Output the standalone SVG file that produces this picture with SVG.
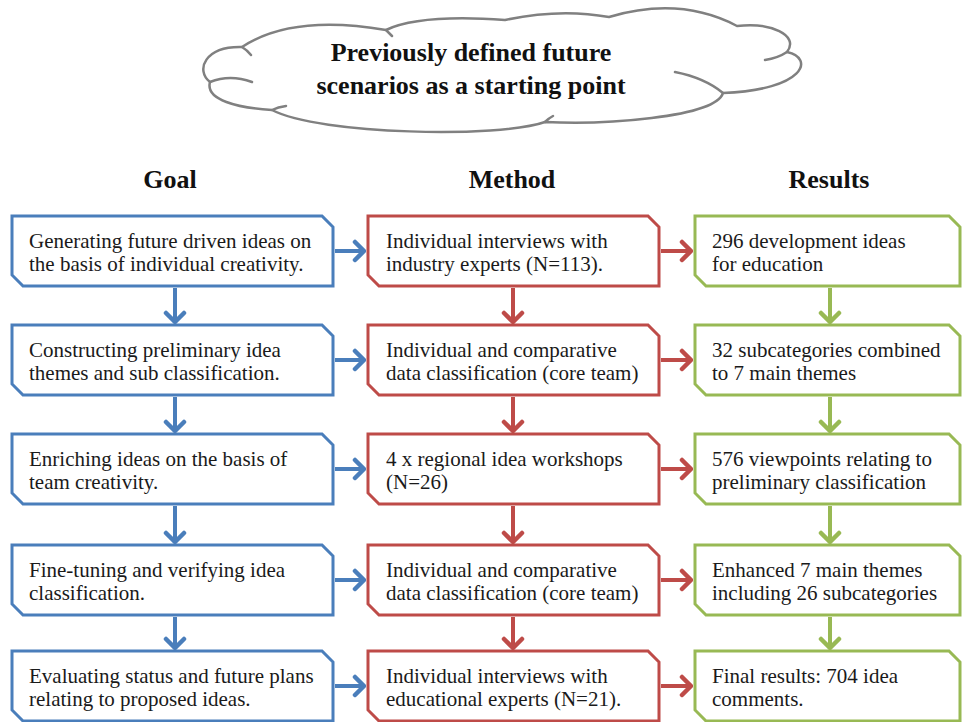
<svg xmlns="http://www.w3.org/2000/svg" width="963" height="722" viewBox="0 0 963 722">
<style>
.t{font-family:'Liberation Serif',serif;font-size:21px;fill:#1a1a1a}
.h{font-family:'Liberation Serif',serif;font-size:26px;font-weight:bold;fill:#111;text-anchor:middle}
</style>
<defs>
<marker id="mb" viewBox="-12 -12 14 24" refX="0" refY="0" markerWidth="14" markerHeight="24" markerUnits="userSpaceOnUse" orient="auto"><path d="M-9,-9 L0,0 L-9,9" fill="none" stroke="#4a7ebb" stroke-width="4.5" stroke-linecap="round" stroke-linejoin="round"/></marker>
<marker id="mr" viewBox="-12 -12 14 24" refX="0" refY="0" markerWidth="14" markerHeight="24" markerUnits="userSpaceOnUse" orient="auto"><path d="M-9,-9 L0,0 L-9,9" fill="none" stroke="#be4b48" stroke-width="4.5" stroke-linecap="round" stroke-linejoin="round"/></marker>
<marker id="mg" viewBox="-12 -12 14 24" refX="0" refY="0" markerWidth="14" markerHeight="24" markerUnits="userSpaceOnUse" orient="auto"><path d="M-9,-9 L0,0 L-9,9" fill="none" stroke="#98b954" stroke-width="4.5" stroke-linecap="round" stroke-linejoin="round"/></marker>
<path id="bx1" d="M0,0 H310 L321,11 V70 H11 L0,59 Z"/>
<path id="bx2" d="M0,0 H280 L291,11 V70 H11 L0,59 Z"/>
<path id="bx3" d="M0,0 H254 L265,11 V70 H11 L0,59 Z"/>
</defs>
<rect width="963" height="722" fill="#fff"/>

<g id="cloud">
<path fill="#fff" stroke="#808080" stroke-width="2.5" d="M242,47 Q292,14 386,30 Q420,14 505,20 Q560,8 609,17 Q680,-4 737,26 C770,22 800,35 787,52 C815,58 805,90 723,93 C715,118 600,125 545,122 C500,138 320,135 272,110 C238,108 205,100 210,82 C195,70 205,46 242,47 Z"/>
<path fill="none" stroke="#808080" stroke-width="2.5" stroke-linecap="round" d="M210,82 Q230,74 252,82 M787,52 Q778,58 765,60 M723,93 Q705,78 675,72 M242,47 Q247,50 251,55 M386,30 Q389,33 392,36 M272,110 Q278,107 286,106 M545,122 Q549,118 553,116"/>
<text class="h" x="471" y="61">Previously defined future</text>
<text class="h" x="471" y="94">scenarios as a starting point</text>
</g>

<g id="headers">
<text class="h" x="170" y="188">Goal</text>
<text class="h" x="512" y="188">Method</text>
<text class="h" x="829" y="188">Results</text>
</g>

<g id="goal1"><use href="#bx1" x="12" y="216" fill="#fff" stroke="#4a7ebb" stroke-width="3"/><text class="t" x="29" y="248">Generating future driven ideas on</text><text class="t" x="29" y="271">the basis of individual creativity.</text></g>
<g id="goal2"><use href="#bx1" x="12" y="325" fill="#fff" stroke="#4a7ebb" stroke-width="3"/><text class="t" x="29" y="357">Constructing preliminary idea</text><text class="t" x="29" y="380">themes and sub classification.</text></g>
<g id="goal3"><use href="#bx1" x="12" y="434" fill="#fff" stroke="#4a7ebb" stroke-width="3"/><text class="t" x="29" y="466">Enriching ideas on the basis of</text><text class="t" x="29" y="489">team creativity.</text></g>
<g id="goal4"><use href="#bx1" x="12" y="545" fill="#fff" stroke="#4a7ebb" stroke-width="3"/><text class="t" x="29" y="577">Fine-tuning and verifying idea</text><text class="t" x="29" y="600">classification.</text></g>
<g id="goal5"><use href="#bx1" x="12" y="651" fill="#fff" stroke="#4a7ebb" stroke-width="3"/><text class="t" x="29" y="683">Evaluating status and future plans</text><text class="t" x="29" y="706">relating to proposed ideas.</text></g>

<g id="method1"><use href="#bx2" x="368" y="216" fill="#fff" stroke="#be4b48" stroke-width="3"/><text class="t" x="386" y="248">Individual interviews with</text><text class="t" x="386" y="271">industry experts (N=113).</text></g>
<g id="method2"><use href="#bx2" x="368" y="325" fill="#fff" stroke="#be4b48" stroke-width="3"/><text class="t" x="386" y="357">Individual and comparative</text><text class="t" x="386" y="380">data classification (core team)</text></g>
<g id="method3"><use href="#bx2" x="368" y="434" fill="#fff" stroke="#be4b48" stroke-width="3"/><text class="t" x="386" y="466">4 x regional idea workshops</text><text class="t" x="386" y="489">(N=26)</text></g>
<g id="method4"><use href="#bx2" x="368" y="545" fill="#fff" stroke="#be4b48" stroke-width="3"/><text class="t" x="386" y="577">Individual and comparative</text><text class="t" x="386" y="600">data classification (core team)</text></g>
<g id="method5"><use href="#bx2" x="368" y="651" fill="#fff" stroke="#be4b48" stroke-width="3"/><text class="t" x="386" y="683">Individual interviews with</text><text class="t" x="386" y="706">educational experts (N=21).</text></g>

<g id="result1"><use href="#bx3" x="695" y="216" fill="#fff" stroke="#98b954" stroke-width="3"/><text class="t" x="712" y="248">296 development ideas</text><text class="t" x="712" y="271">for education</text></g>
<g id="result2"><use href="#bx3" x="695" y="325" fill="#fff" stroke="#98b954" stroke-width="3"/><text class="t" x="712" y="357">32 subcategories combined</text><text class="t" x="712" y="380">to 7 main themes</text></g>
<g id="result3"><use href="#bx3" x="695" y="434" fill="#fff" stroke="#98b954" stroke-width="3"/><text class="t" x="712" y="466">576 viewpoints relating to</text><text class="t" x="712" y="489">preliminary classification</text></g>
<g id="result4"><use href="#bx3" x="695" y="545" fill="#fff" stroke="#98b954" stroke-width="3"/><text class="t" x="712" y="577">Enhanced 7 main themes</text><text class="t" x="712" y="600">including 26 subcategories</text></g>
<g id="result5"><use href="#bx3" x="695" y="651" fill="#fff" stroke="#98b954" stroke-width="3"/><text class="t" x="712" y="683">Final results: 704 idea</text><text class="t" x="712" y="706">comments.</text></g>

<g id="connectors" fill="none" stroke-width="4">
<g stroke="#4a7ebb" marker-end="url(#mb)">
<path d="M175,288 V322"/><path d="M175,397 V431"/><path d="M175,506 V542"/><path d="M175,617 V648"/>
<path d="M335,251 H364"/><path d="M335,360 H364"/><path d="M335,469 H364"/><path d="M335,580 H364"/><path d="M335,686 H364"/>
</g>
<g stroke="#be4b48" marker-end="url(#mr)">
<path d="M513,288 V322"/><path d="M513,397 V431"/><path d="M513,506 V542"/><path d="M513,617 V648"/>
<path d="M661,251 H691"/><path d="M661,360 H691"/><path d="M661,469 H691"/><path d="M661,580 H691"/><path d="M661,686 H691"/>
</g>
<g stroke="#98b954" marker-end="url(#mg)">
<path d="M830,288 V322"/><path d="M830,397 V431"/><path d="M830,506 V542"/><path d="M830,617 V648"/>
</g>
</g>
</svg>
